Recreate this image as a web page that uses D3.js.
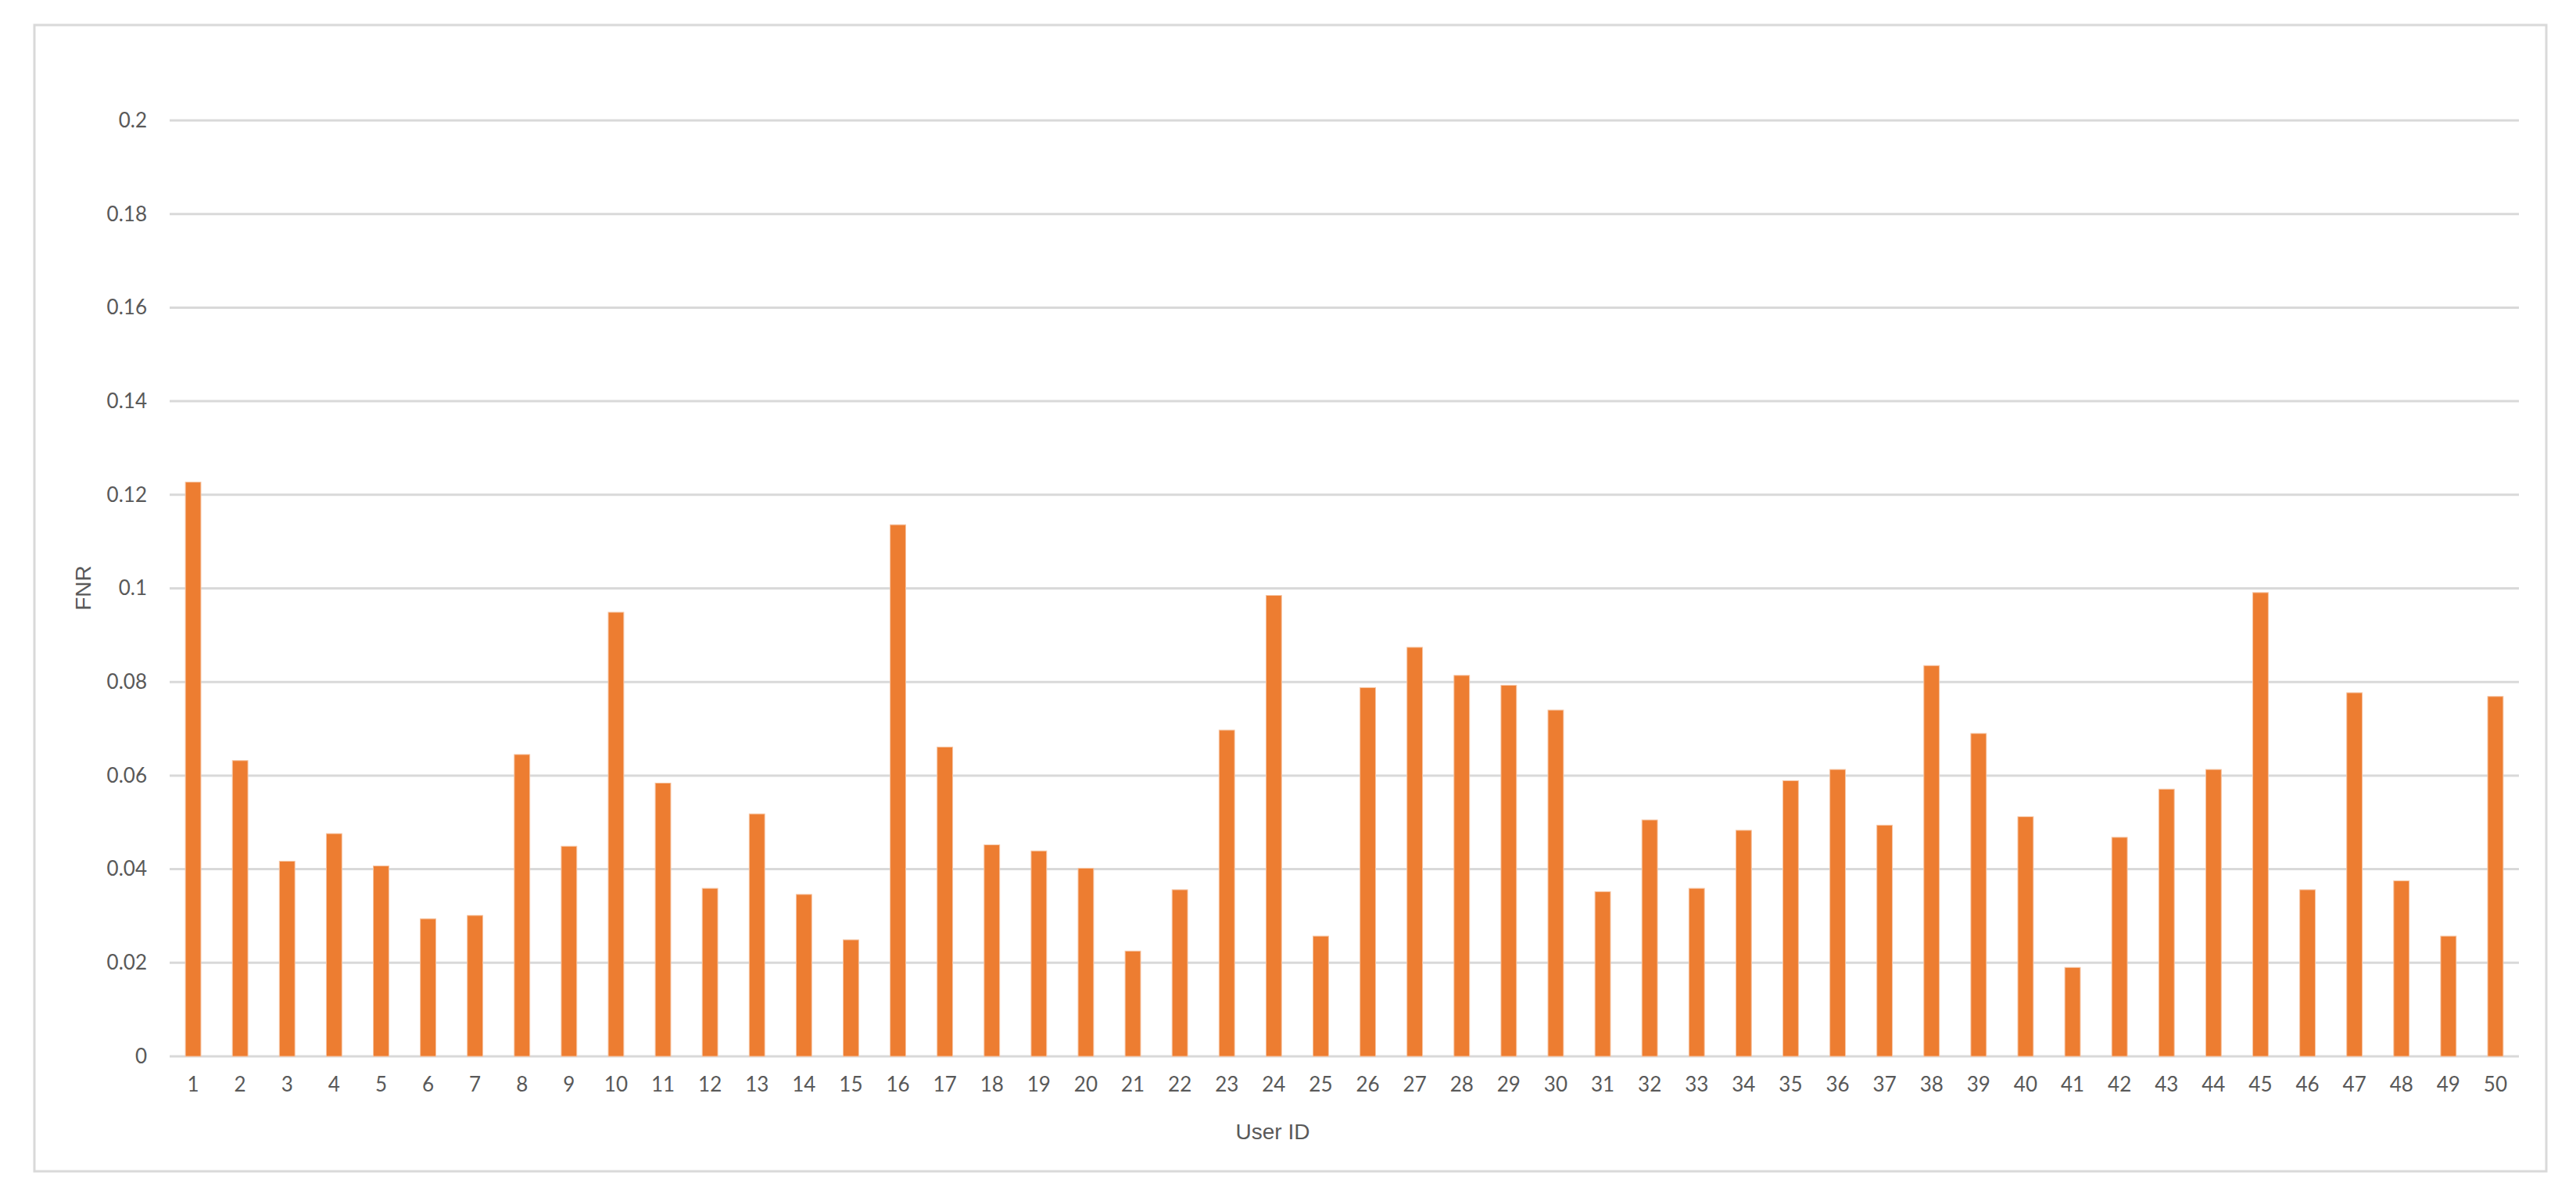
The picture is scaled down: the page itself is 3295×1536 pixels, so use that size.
<!DOCTYPE html>
<html>
<head>
<meta charset="utf-8">
<script src="https://cdn.jsdelivr.net/npm/d3@7"></script>
<style>
  html, body { margin: 0; padding: 0; background: #fff; }
  svg { display: block; }
</style>
</head>
<body>
<svg id="chart" width="3295" height="1536"></svg>
<script>
const userIds = d3.range(1, 51).map(String);
const fnrValues = [
  0.1227, 0.0632, 0.0417, 0.0476, 0.0407, 0.0294, 0.0301, 0.0645, 0.0449, 0.0949,
  0.0584, 0.0359, 0.0518, 0.0346, 0.0249, 0.1136, 0.0661, 0.0452, 0.0439, 0.0402,
  0.0225, 0.0356, 0.0697, 0.0985, 0.0257, 0.0788, 0.0874, 0.0814, 0.0793, 0.0740,
  0.0352, 0.0505, 0.0359, 0.0483, 0.0589, 0.0613, 0.0494, 0.0835, 0.0690, 0.0512,
  0.0190, 0.0468, 0.0571, 0.0613, 0.0991, 0.0356, 0.0777, 0.0375, 0.0257, 0.0769
];
const yTicks = [0, 0.02, 0.04, 0.06, 0.08, 0.1, 0.12, 0.14, 0.16, 0.18, 0.2];
const xTitle = "User ID";
const yTitle = "FNR";

const data = userIds.map((id, i) => ({ id, v: fnrValues[i] }));

const svg = d3.select("#chart");
const plot = { left: 217, right: 3222, top: 154, bottom: 1351 };

// outer chart border
svg.append("rect")
  .attr("x", 44).attr("y", 32)
  .attr("width", 3257 - 44).attr("height", 1498 - 32)
  .attr("fill", "#fff")
  .attr("stroke", "#d9d9d9").attr("stroke-width", 3);

const x = d3.scaleBand().domain(userIds).range([plot.left, plot.right]).paddingInner(0.67).paddingOuter(0.335);
const y = d3.scaleLinear().domain([0, 0.2]).range([plot.bottom, plot.top]);

// gridlines
svg.append("g").selectAll("line").data(yTicks).join("line")
  .attr("x1", plot.left).attr("x2", plot.right)
  .attr("y1", d => y(d)).attr("y2", d => y(d))
  .attr("stroke", "#d9d9d9").attr("stroke-width", 3);

// y axis labels
const yAxis = d3.axisLeft(y).tickValues(yTicks).tickFormat(d => d3.format("")(+d.toFixed(2))).tickSize(0).tickPadding(29);
const gy = svg.append("g").attr("transform", `translate(${plot.left},0)`).call(yAxis);
gy.select(".domain").remove();
gy.selectAll("text")
  .attr("font-family", "Lato, 'Open Sans', sans-serif")
  .attr("font-size", 26).attr("fill", "#595959");

// bars
svg.append("g").selectAll("rect").data(data).join("rect")
  .attr("x", d => x(d.id))
  .attr("width", x.bandwidth())
  .attr("y", d => y(d.v))
  .attr("height", d => y(0) - y(d.v))
  .attr("fill", "#ED7D31")
  .attr("stroke", "#f6c4a2").attr("stroke-width", 1);

// x axis labels
const xAxis = d3.axisBottom(x).tickSize(0).tickPadding(27);
const gx = svg.append("g").attr("transform", `translate(0,${plot.bottom})`).call(xAxis);
gx.select(".domain").remove();
gx.selectAll("text")
  .attr("font-family", "Lato, 'Open Sans', sans-serif")
  .attr("font-size", 26).attr("fill", "#595959");

// axis titles
svg.append("text")
  .attr("x", 1628).attr("y", 1447)
  .attr("text-anchor", "middle").attr("dominant-baseline", "central")
  .attr("font-family", "'Liberation Sans', Arial, sans-serif")
  .attr("font-size", 28).attr("fill", "#595959")
  .text(xTitle);

svg.append("text")
  .attr("transform", "translate(106,752) rotate(-90)")
  .attr("text-anchor", "middle").attr("dominant-baseline", "central")
  .attr("font-family", "'Liberation Sans', Arial, sans-serif")
  .attr("font-size", 28).attr("fill", "#595959")
  .text(yTitle);
</script>
</body>
</html>
